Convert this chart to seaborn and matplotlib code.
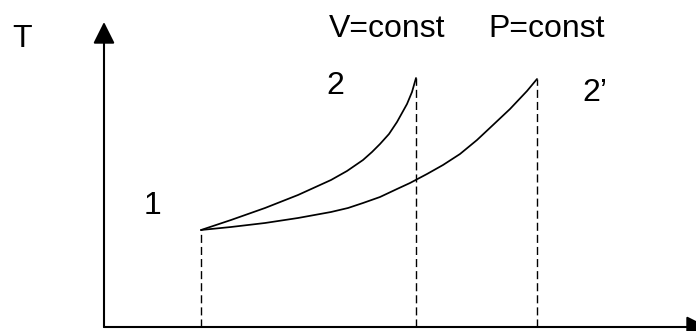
import matplotlib
matplotlib.use("Agg")
import matplotlib.pyplot as plt
import seaborn as sns
import pandas as pd

# T-s diagram: constant volume and constant pressure heating from state 1
s_v = [0.97, 1.27, 1.61, 1.94, 2.27, 2.43, 2.59, 2.68, 2.76, 2.85,
       2.93, 2.98, 3.03, 3.08, 3.12]
T_v = [0.97, 1.07, 1.19, 1.32, 1.47, 1.56, 1.67, 1.75, 1.83, 1.93,
       2.05, 2.14, 2.23, 2.35, 2.49]

s_p = [0.97, 1.27, 1.61, 1.94, 2.27, 2.44, 2.59, 2.76, 2.93, 3.06,
       3.23, 3.39, 3.56, 3.73, 3.89, 4.06, 4.23, 4.33]
T_p = [0.97, 1.00, 1.04, 1.09, 1.15, 1.19, 1.24, 1.30, 1.38, 1.44,
       1.53, 1.62, 1.73, 1.87, 2.02, 2.18, 2.36, 2.48]

# vertical projections of states 1, 2 and 2'
drop_s = [0.97, 3.12, 4.33]
drop_T = [0.97, 2.49, 2.48]

labels = ["T", "1", "2", "2\u2019", "V=const", "P=const"]
label_s = [-0.82, 0.48, 2.31, 4.91, 2.83, 4.43]
label_T = [2.88, 1.21, 2.41, 2.34, 2.98, 2.98]

sns.set_style("white")
plt.rcParams["font.family"] = ["Liberation Sans", "DejaVu Sans"]

fig = plt.figure(figsize=(6.96, 3.31), dpi=100)
ax = fig.add_axes([0, 0, 1, 1])

curves = pd.concat([
    pd.DataFrame({"s": s_v, "T": T_v, "process": "V=const"}),
    pd.DataFrame({"s": s_p, "T": T_p, "process": "P=const"}),
])
sns.lineplot(data=curves, x="s", y="T", units="process", estimator=None,
             sort=False, color="black", linewidth=1.25, ax=ax, legend=False,
             solid_joinstyle="round")

for s, t in zip(drop_s, drop_T):
    ax.plot([s, s], [0, t], color="black", linewidth=1.0,
            linestyle=(0, (5.8, 2.9)))

# axes with arrow heads
arrow = dict(arrowstyle="-|>,head_length=0.6,head_width=0.3",
             mutation_scale=22, color="black", lw=1.5, shrinkA=0, shrinkB=0)
ax.annotate("", xy=(0, 3.05), xytext=(0, 0), arrowprops=arrow)
ax.annotate("", xy=(6.04, 0), xytext=(0, 0), arrowprops=arrow,
            annotation_clip=False)

for txt, s, t in zip(labels, label_s, label_T):
    ax.text(s, t, txt, fontsize=23, ha="center", va="center", color="black")

ax.set_xlim(-1.04, 5.92)
ax.set_ylim(-0.04, 3.27)
ax.axis("off")

fig.savefig("out.png", dpi=100)
